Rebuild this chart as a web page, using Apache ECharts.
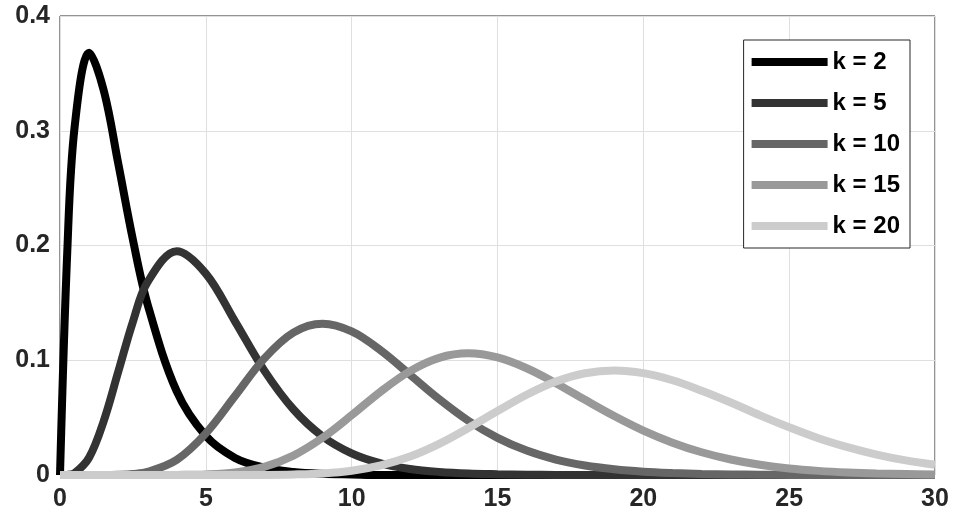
<!DOCTYPE html>
<html>
<head>
<meta charset="utf-8">
<script src="https://cdn.jsdelivr.net/npm/echarts@6/dist/echarts.min.js"></script>
<style>
  html, body { margin: 0; padding: 0; background: #fff; }
  #chart { width: 958px; height: 529px; }
</style>
</head>
<body>
<div id="chart"></div>
<script>
const xValues = [0, 0.25, 0.5, 1, 1.5, 2, 2.5, 3, 4, 5, 6, 7, 8, 9, 10, 11, 12, 13, 14, 15,
  16, 17, 18, 19, 20, 21, 22, 23, 24, 25, 26, 27, 28, 29, 30];

const k2 = [0, 0.195, 0.303, 0.368, 0.335, 0.271, 0.205, 0.149, 0.073, 0.034, 0.0149, 0.0064,
  0.0027, 0.0011, 0.0005, 0, 0, 0, 0, 0, 0, 0, 0, 0, 0, 0, 0, 0, 0, 0, 0, 0, 0, 0, 0];
const k5 = [0, 0.0001, 0.0016, 0.0153, 0.0471, 0.0902, 0.1336, 0.168, 0.195, 0.1755, 0.1339,
  0.0912, 0.0573, 0.0337, 0.0189, 0.0102, 0.0053, 0.0027, 0.0013, 0.0007, 0.0003, 0.0001,
  0, 0, 0, 0, 0, 0, 0, 0, 0, 0, 0, 0, 0];
const k10 = [0, 0, 0, 0, 0, 0.0002, 0.0009, 0.0027, 0.0132, 0.0363, 0.0688, 0.1014, 0.1241,
  0.1318, 0.1251, 0.1085, 0.0874, 0.0661, 0.0473, 0.0324, 0.0213, 0.0135, 0.0083, 0.005,
  0.0029, 0.0017, 0.0009, 0.0005, 0.0003, 0.0001, 0, 0, 0, 0, 0];
const k15 = [0, 0, 0, 0, 0, 0, 0, 0, 0.0001, 0.0005, 0.0022, 0.0071, 0.0169, 0.0324, 0.0521,
  0.0728, 0.0905, 0.1021, 0.106, 0.1024, 0.093, 0.08, 0.0655, 0.0514, 0.0387, 0.0282, 0.0198,
  0.0135, 0.0089, 0.0057, 0.0036, 0.0022, 0.0013, 0.0008, 0.0004];
const k20 = [0, 0, 0, 0, 0, 0, 0, 0, 0, 0, 0, 0.0001, 0.0005, 0.0014, 0.0037, 0.0084, 0.0161,
  0.0272, 0.0409, 0.0557, 0.0699, 0.0814, 0.0887, 0.0911, 0.0888, 0.0826, 0.0735, 0.0632,
  0.052, 0.0416, 0.0321, 0.0243, 0.0178, 0.0127, 0.0089];

const seriesNames = ['k = 2', 'k = 5', 'k = 10', 'k = 15', 'k = 20'];
const seriesValues = [k2, k5, k10, k15, k20];
const colors = ['#000000', '#333333', '#666666', '#999999', '#cccccc'];

const chart = echarts.init(document.getElementById('chart'));
const labelFont = { color: '#262626', fontSize: 25, fontWeight: 'bold', fontFamily: 'Liberation Sans' };

chart.setOption({
  animation: false,
  grid: { left: 60, right: 23, top: 16, bottom: 54, show: true, borderColor: '#262626', borderWidth: 1 },
  legend: {
    orient: 'vertical',
    right: 48,
    top: 40,
    backgroundColor: '#fff',
    borderColor: '#262626',
    borderWidth: 1,
    padding: [10, 10, 10, 8],
    itemGap: 17,
    itemWidth: 76,
    itemHeight: 8,
    icon: 'rect',
    textStyle: { color: '#000', fontSize: 24, fontWeight: 'bold', fontFamily: 'Liberation Sans' },
    data: seriesNames
  },
  xAxis: {
    type: 'value', min: 0, max: 30, interval: 5,
    axisLine: { show: false }, axisTick: { show: false },
    axisLabel: Object.assign({ margin: 12 }, labelFont),
    splitLine: { lineStyle: { color: '#dfdfdf' } }
  },
  yAxis: {
    type: 'value', min: 0, max: 0.4, interval: 0.1,
    axisLine: { show: false }, axisTick: { show: false },
    axisLabel: Object.assign({ margin: 10, formatter: v => v === 0 ? '0' : String(+v.toFixed(1)) }, labelFont),
    splitLine: { lineStyle: { color: '#dfdfdf' } }
  },
  series: seriesNames.map((name, i) => ({
    name,
    type: 'line',
    showSymbol: false,
    smooth: 0.35,
    color: colors[i],
    lineStyle: { width: 8, color: colors[i] },
    data: xValues.map((x, j) => [x, seriesValues[i][j]])
  }))
});
</script>
</body>
</html>
